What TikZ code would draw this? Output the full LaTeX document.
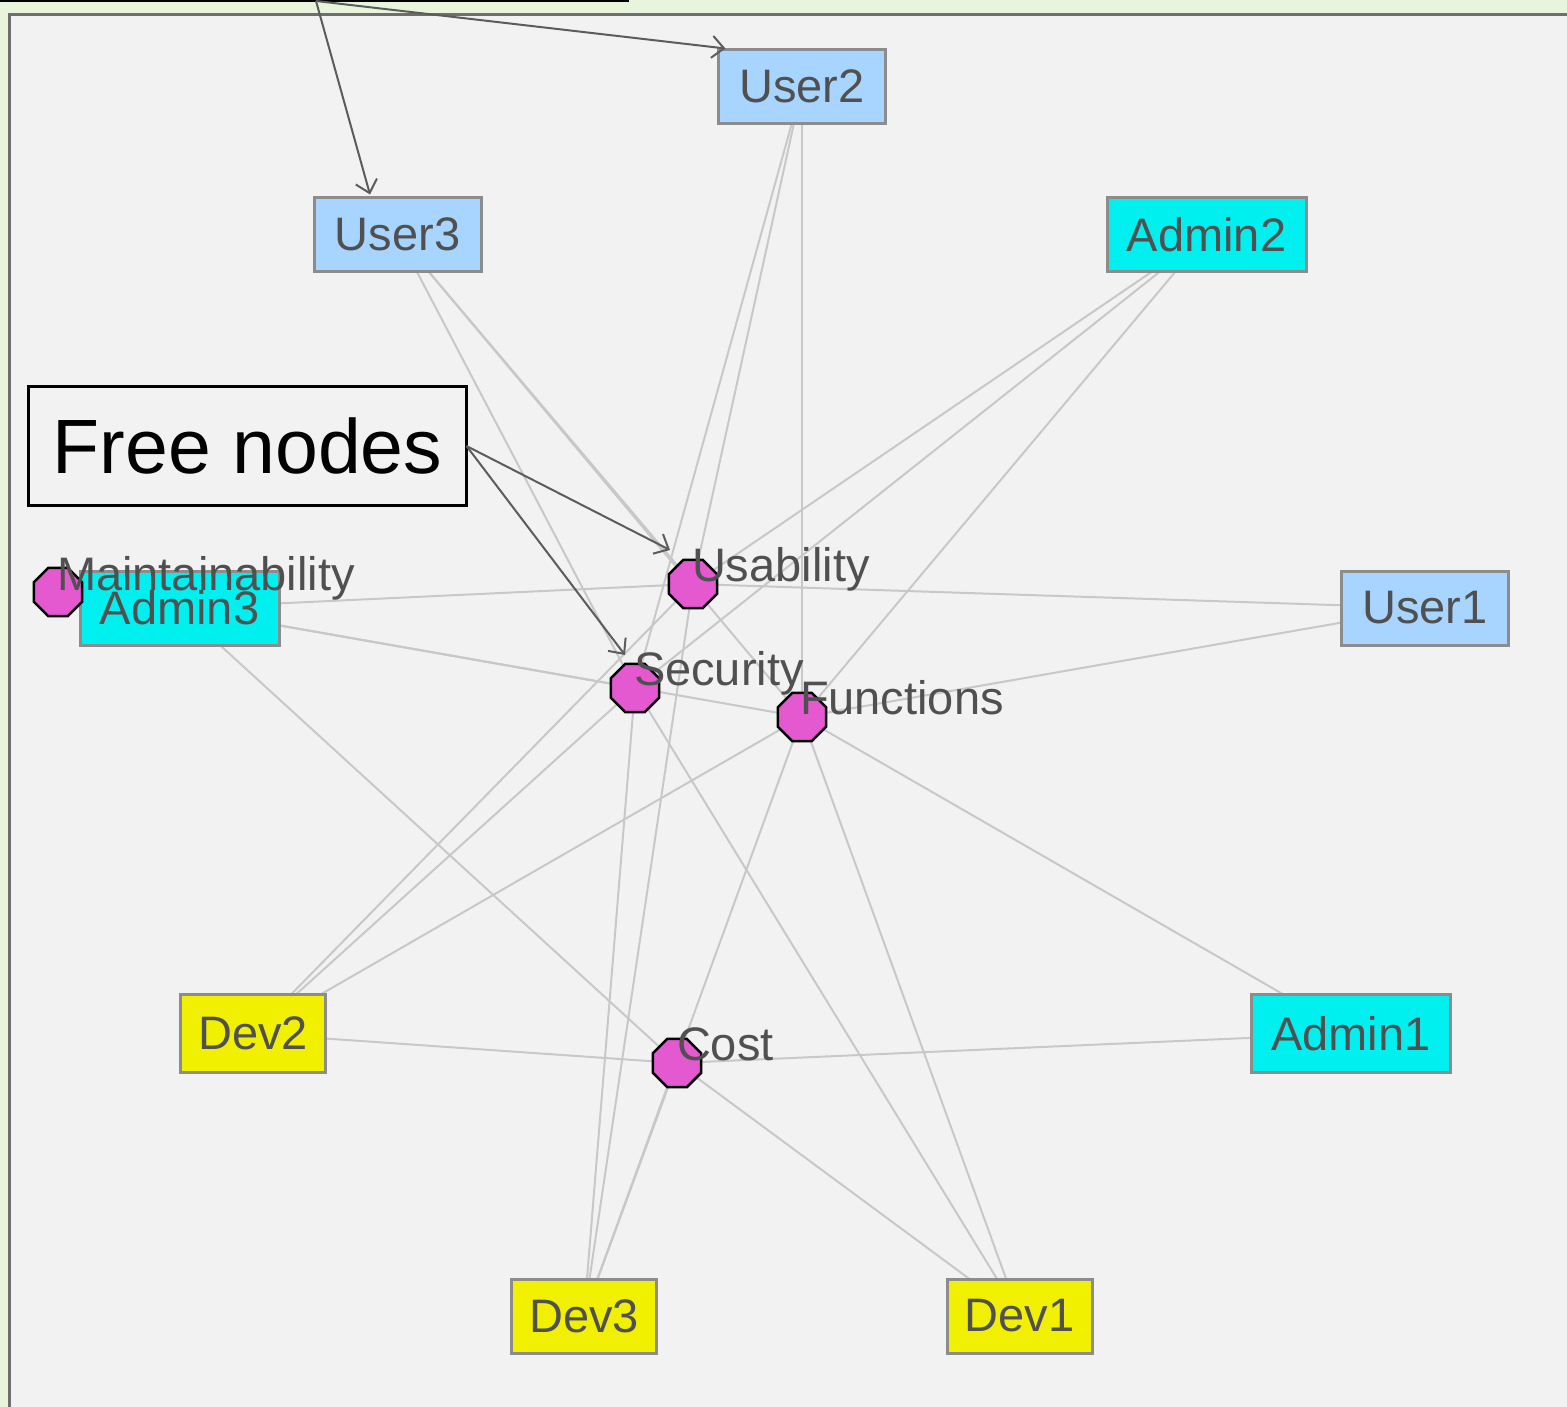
\documentclass[tikz,border=0pt]{standalone}
\usepackage{fontspec}
\setmainfont{Liberation Sans}
\usetikzlibrary{shapes.geometric,arrows.meta,backgrounds,calc}
\definecolor{outerbg}{HTML}{E8F5DC}
\definecolor{panelbg}{HTML}{F2F2F2}
\definecolor{panelborder}{HTML}{6E6E6E}
\definecolor{userblue}{HTML}{A8D5FF}
\definecolor{admincyan}{HTML}{00F0F0}
\definecolor{devyellow}{HTML}{F0F000}
\definecolor{boxborder}{HTML}{8C8C8C}
\definecolor{textgray}{HTML}{505050}
\definecolor{critfill}{HTML}{E458D0}
\definecolor{edgegray}{HTML}{C8C8C8}
\definecolor{arrowgray}{HTML}{5C5C5C}
\begin{document}
\begin{tikzpicture}[x=1pt,y=-1pt,
  actor/.style={draw=boxborder, line width=3pt, minimum height=74pt, inner sep=0pt, outer sep=0pt, text=textgray, font=\fontsize{47}{50}\selectfont},
  user/.style={actor, fill=userblue, minimum width=167pt},
  admin/.style={actor, fill=admincyan, minimum width=199pt},
  dev/.style={actor, fill=devyellow, minimum width=145pt},
  crit/.style={regular polygon, regular polygon sides=8, fill=critfill, draw=black, line width=2.5pt, minimum size=52pt, inner sep=0pt, outer sep=0pt},
  critlabel/.style={anchor=base west, inner sep=0pt, outer sep=0pt, text=textgray, font=\fontsize{47}{50}\selectfont},
  link/.style={draw=edgegray, line width=2pt},
  pointer/.style={draw=arrowgray, line width=2pt, -{Straight Barb[length=12pt,width=22pt,line width=2pt]}},
  note/.style={draw=black, line width=2.5pt, fill=panelbg, inner sep=0pt, outer sep=0pt}
]
\useasboundingbox (0,0) rectangle (1567,1407);
\begin{pgfonlayer}{background}
  \fill[outerbg] (0,0) rectangle (1567,1407);
  \fill[panelbg] (9,14) rectangle (1600,1420);
  \draw[panelborder, line width=3pt] (9.5,1420) -- (9.5,14.5) -- (1600,14.5);
\end{pgfonlayer}

% partly visible note above the picture
\node[draw=black, line width=2pt, fill=outerbg, minimum width=630pt, minimum height=100pt, inner sep=0pt, outer sep=0pt, anchor=south] (topnote) at (313,1) {};

% stakeholders
\node[user] (user2) at (802,86.5) {User2};
\node[user] (user3) at (397.5,234.5) {User3};
\node[admin] (admin2) at (1206.5,234.5) {Admin2};
\node[user] (user1) at (1425,608) {User1};
\node[admin] (admin3) at (179.5,608) {Admin3};
\node[admin, minimum height=78pt] (admin1) at (1351,1033.5) {Admin1};
\node[dev, minimum height=78pt] (dev2) at (253,1033.5) {Dev2};
\node[dev] (dev3) at (584,1316) {Dev3};
\node[dev] (dev1) at (1019.5,1316) {Dev1};

% criteria
\node[crit] (usab) at (693,584) {};
\node[crit] (secu) at (635,688) {};
\node[crit] (func) at (802,717) {};
\node[crit] (cost) at (677,1063) {};
\node[crit] (maint) at (58,592) {};

\node[critlabel] (usabtext) at ($(usab)+(-1,-3)$) {Usability};
\node[critlabel] (secutext) at ($(secu)+(-1,-3)$) {Security};
\node[critlabel] (functext) at ($(func)+(-2,-3)$) {Functions};
\node[critlabel] (costtext) at ($(cost)+(0,-3)$) {Cost};
\node[critlabel] (mainttext) at ($(maint)+(-1,-2)$) {Maintainability};

% links
\begin{pgfonlayer}{background}
\foreach \s/\c in {user3/secu, user3/func, user3/usab, user2/usab, user2/secu, user2/func,
  user1/usab, user1/func, admin2/usab, admin2/secu, admin2/func,
  admin3/usab, admin3/secu, admin3/func, admin3/cost, admin1/func, admin1/cost,
  dev2/usab, dev2/secu, dev2/func, dev2/cost, dev3/usab, dev3/secu, dev3/func, dev3/cost,
  dev1/secu, dev1/func, dev1/cost}
  \draw[link] (\s) -- (\c);
\end{pgfonlayer}

% note and pointers
\node[note, minimum width=438pt, minimum height=119pt, font=\fontsize{77}{80}\selectfont] (freenote) at (247.5,446) {Free nodes};
\coordinate (usabtip) at ($(usab)+(-23,-34)$);
\coordinate (secutip) at ($(secu)+(-10,-33)$);
\coordinate (user3tip) at ($(user3.north west)+(56,-3)$);
\coordinate (user2tip) at ($(user2.north west)+(7,-1)$);
\draw[pointer] (freenote.east) -- (usabtip);
\draw[pointer] (freenote.east) -- (secutip);
\draw[pointer] ($(topnote.south)+(3,0)$) -- (user3tip);
\draw[pointer] ($(topnote.south)+(3,0)$) -- (user2tip);
\end{tikzpicture}
\end{document}
